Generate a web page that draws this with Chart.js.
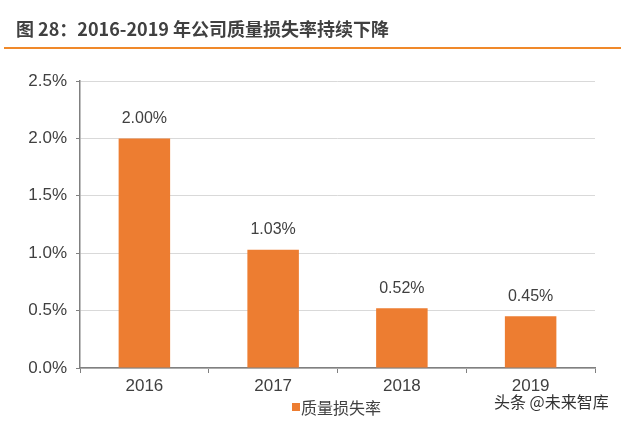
<!DOCTYPE html>
<html>
<head>
<meta charset="utf-8">
<script src="https://cdn.jsdelivr.net/npm/chart.js@4"></script>
<style>
  html, body { margin: 0; padding: 0; background: #fff; }
  #wrap { width: 621px; height: 422px; position: relative; }
</style>
</head>
<body>
<div id="wrap"><canvas id="chart" width="621" height="422"></canvas></div>
<script>
var years = ['2016', '2017', '2018', '2019'];
var lossRate = [2.00, 1.03, 0.52, 0.45];
var yTicks = [0, 0.5, 1.0, 1.5, 2.0, 2.5];
var seriesName = '质量损失率';
var titleText = '图 28：2016-2019 年公司质量损失率持续下降';
var sourceText = '头条 @未来智库';

var txtFont = '"Liberation Sans", Arial, sans-serif';
var cjkFont = '"Noto Sans CJK SC", "Liberation Sans", sans-serif';

// title, orange rule, bar labels, legend and watermark
var extras = {
  id: 'extras',
  afterDraw: function(chart) {
    var ctx = chart.ctx;
    ctx.save();
    ctx.fillStyle = '#404040';
    ctx.font = 'bold 18px ' + cjkFont;
    ctx.textBaseline = 'alphabetic';
    ctx.textAlign = 'left';
    ctx.fillText(titleText, 16, 36);
    ctx.fillStyle = '#F0892A';
    ctx.fillRect(4, 47, 617, 2);

    var meta = chart.getDatasetMeta(0);
    ctx.fillStyle = '#404040';
    ctx.font = '16px ' + txtFont;
    ctx.textAlign = 'center';
    ctx.textBaseline = 'middle';
    meta.data.forEach(function(bar, i) {
      ctx.fillText(lossRate[i].toFixed(2) + '%', bar.x, bar.y - 20);
    });

    ctx.fillStyle = '#ED7D31';
    ctx.fillRect(292, 403, 8, 8);
    ctx.fillStyle = '#404040';
    ctx.font = '16px ' + cjkFont;
    ctx.textAlign = 'left';
    ctx.fillText(seriesName, 301, 408);

    ctx.fillStyle = '#333';
    ctx.font = '16px ' + cjkFont;
    ctx.fillText(sourceText, 494, 402);
    ctx.restore();
  }
};

new Chart(document.getElementById('chart'), {
  type: 'bar',
  data: {
    labels: years,
    datasets: [{
      label: seriesName,
      data: lossRate,
      backgroundColor: '#ED7D31',
      barPercentage: 0.8,
      categoryPercentage: 0.5
    }]
  },
  options: {
    responsive: false,
    animation: false,
    devicePixelRatio: 1,
    layout: { padding: { left: 0, top: 81, right: 26, bottom: 0 } },
    plugins: { legend: { display: false }, tooltip: { enabled: false } },
    scales: {
      x: {
        offset: true,
        grid: { offset: true, drawOnChartArea: false, drawTicks: true, tickLength: 5, tickColor: '#808080' },
        border: { color: '#808080', width: 1.5 },
        ticks: { color: '#404040', font: { family: txtFont, size: 17 }, padding: 3 },
        afterFit: function(scale) { scale.height = 54; }
      },
      y: {
        min: 0,
        max: 2.5,
        afterBuildTicks: function(scale) {
          scale.ticks = yTicks.map(function(v) { return { value: v }; });
        },
        grid: { color: '#D9D9D9', lineWidth: 1, drawTicks: true, tickLength: 4, tickColor: '#808080' },
        border: { color: '#808080', width: 1.5 },
        ticks: {
          color: '#404040',
          font: { family: txtFont, size: 17 },
          padding: 9,
          callback: function(v) { return v.toFixed(1) + '%'; }
        },
        afterFit: function(scale) { scale.width = 80; }
      }
    }
  },
  plugins: [extras]
});
</script>
</body>
</html>
